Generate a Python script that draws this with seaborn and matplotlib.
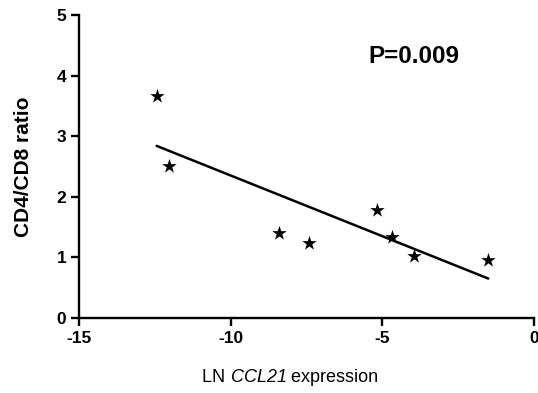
import matplotlib
matplotlib.use("Agg")
import matplotlib.pyplot as plt
import seaborn as sns
import pandas as pd
from matplotlib.offsetbox import TextArea, HPacker, AnchoredOffsetbox

# Data
ccl21_expr = [-12.44, -12.02, -8.40, -7.41, -5.19, -4.69, -3.95, -1.51]
cd4_cd8_ratio = [3.67, 2.51, 1.40, 1.24, 1.79, 1.34, 1.03, 0.95]
x_ticks = [-15, -10, -5, 0]
y_ticks = [0, 1, 2, 3, 4, 5]
p_text = "P=0.009"

df = pd.DataFrame({"x": ccl21_expr, "y": cd4_cd8_ratio})

sns.set_style("ticks")
plt.rcParams["font.family"] = ["Liberation Sans", "DejaVu Sans"]
plt.rcParams["text.color"] = "black"
plt.rcParams["axes.labelcolor"] = "black"

fig = plt.figure(figsize=(5.38, 3.93), dpi=100)
ax = fig.add_axes([0.1468, 0.1908, 0.8458, 0.771])

sns.regplot(data=df, x="x", y="y", ax=ax, ci=None, truncate=True,
            marker="*", color="black",
            scatter_kws={"s": 120, "linewidths": 0, "alpha": 1, "zorder": 3},
            line_kws={"linewidth": 1.8, "color": "black"})

ax.set_xlim(-15, 0)
ax.set_ylim(0, 5)
ax.set_xticks(x_ticks)
ax.set_yticks(y_ticks)
ax.set_xticklabels([str(t) for t in x_ticks], fontsize=12.5, fontweight="bold")
ax.set_yticklabels([str(t) for t in y_ticks], fontsize=12.5, fontweight="bold")

for side in ["top", "right"]:
    ax.spines[side].set_visible(False)
for side in ["left", "bottom"]:
    ax.spines[side].set_linewidth(1.7)
    ax.spines[side].set_color("black")
ax.tick_params(axis="both", direction="out", length=6, width=1.7, colors="black", pad=3)

ax.set_xlabel("")
ax.set_ylabel("CD4/CD8 ratio", fontsize=15, fontweight="bold", labelpad=17, color="black")

# x label with italic gene name
parts = [TextArea("LN ", textprops=dict(fontsize=13, color="black")),
         TextArea("CCL21", textprops=dict(fontsize=13, style="italic", color="black")),
         TextArea(" expression", textprops=dict(fontsize=13, color="black"))]
box = HPacker(children=parts, align="baseline", pad=0, sep=0)
anch = AnchoredOffsetbox(loc="center", child=box, pad=0, frameon=False,
                         bbox_to_anchor=(290.5 / 538, 1 - 377 / 393),
                         bbox_transform=fig.transFigure, borderpad=0)
fig.add_artist(anch)

ax.text(-5.45, 4.31, p_text, fontsize=17.5, fontweight="bold", ha="left", va="center",
        color="black")

fig.savefig("out.png", dpi=100)
